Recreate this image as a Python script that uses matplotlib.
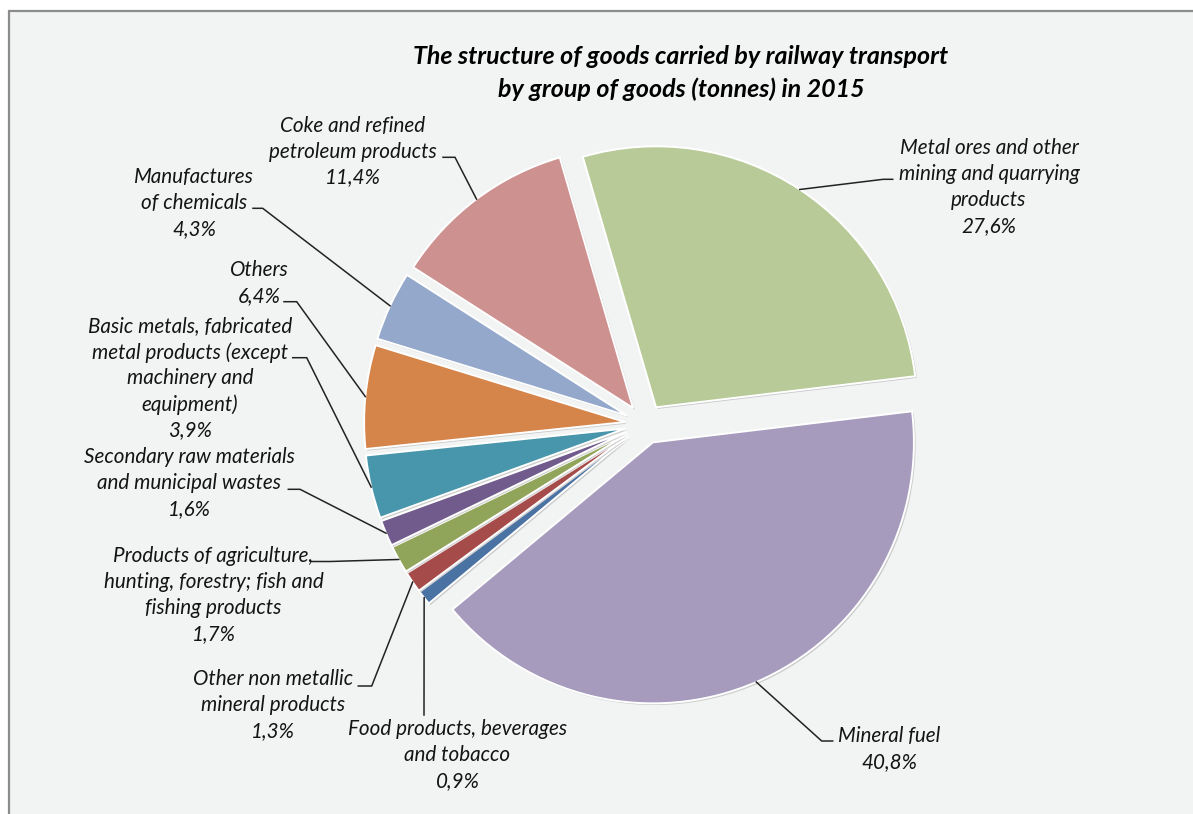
import matplotlib
matplotlib.use("Agg")
import matplotlib.pyplot as plt
from matplotlib.patches import Rectangle
import matplotlib.patheffects as pe
import numpy as np

# ---------------- data ----------------
categories = [
    "Metal ores and other mining and quarrying products",
    "Mineral fuel",
    "Food products, beverages and tobacco",
    "Other non metallic mineral products",
    "Products of agriculture, hunting, forestry; fish and fishing products",
    "Secondary raw materials and municipal wastes",
    "Basic metals, fabricated metal products (except machinery and equipment)",
    "Others",
    "Manufactures of chemicals",
    "Coke and refined petroleum products",
]
shares = [27.6, 40.8, 0.9, 1.3, 1.7, 1.6, 3.9, 6.4, 4.3, 11.4]
label_lines = [
    ["Metal ores and other", "mining and quarrying", "products"],
    ["Mineral fuel"],
    ["Food products, beverages", "and tobacco"],
    ["Other non metallic", "mineral products"],
    ["Products of agriculture,", "hunting, forestry; fish and", "fishing products"],
    ["Secondary raw materials", "and municipal wastes"],
    ["Basic metals, fabricated", "metal products (except", "machinery and", "equipment)"],
    ["Others"],
    ["Manufactures", "of chemicals"],
    ["Coke and refined", "petroleum products"],
]
title_lines = ["The structure of goods carried by railway transport",
               "by group of goods (tonnes) in 2015"]

colors = ["#B8CA97", "#A69BBC", "#4A72A2", "#A54C4A", "#91A55A",
          "#705B8C", "#4896AB", "#D5844A", "#93A8CA", "#CD9190"]

# ---------------- layout (pixel coords, y downward) ----------------
W, H = 1193, 814
pie_center = (645, 424)
pie_radius = 261
explode_px = 20
start_angle = -106.3   # data angle (y axis inverted)

# label block centre (x, y), leader elbow and leader end next to text
label_pos = [
    (989, 187), (889, 748.7), (457.5, 755), (273.3, 705.3), (213.5, 595.4),
    (189, 483), (190, 378.5), (259, 282.8), (194, 202.7), (353, 151.5),
]
leader_elbow = [
    (883.3, 179.3), (821.7, 741), (424, 712), (371.7, 686), (330, 561.5),
    (300, 489.3), (306.7, 357.7), (296.7, 301.7), (262.7, 208.3), (455, 157.3),
]
leader_end = [
    (892.7, 179.3), (832.7, 741), (424, 715), (358.3, 686), (311.7, 561.5),
    (288.3, 489.3), (292.7, 357.7), (284, 301.7), (253, 208.3), (443, 157.3),
]
line_step = 26

bg = "#F2F4F3"
text_color = "#141414"
label_font = "Lato"

fig = plt.figure(figsize=(W / 100, H / 100), dpi=100, facecolor="white")
ax = fig.add_axes([0, 0, 1, 1])
ax.set_axis_off()

# chart area background with border (left/top visible)
ax.add_patch(Rectangle((9, 11), W + 20, H + 20, facecolor=bg,
                       edgecolor="#8C8C8C", linewidth=1.6, zorder=0))

wedges, _ = ax.pie(
    shares,
    colors=colors,
    startangle=start_angle,
    counterclock=True,
    center=pie_center,
    radius=pie_radius,
    explode=[explode_px] * len(shares),
    wedgeprops=dict(edgecolor="white", linewidth=1.4),
    frame=True,
)
for w in wedges:
    w.set_zorder(2)
    w.set_path_effects([
        pe.SimplePatchShadow(offset=(1.2, -1.2), shadow_rgbFace="#7F7F7F", alpha=0.35),
        pe.Normal(),
    ])

ax.set_xlim(0, W)
ax.set_ylim(H, 0)
ax.set_aspect("equal")
ax.set_axis_off()

# labels + leader lines
for i, w in enumerate(wedges):
    lines = label_lines[i] + [f"{shares[i]:.1f}%".replace(".", ",")]
    cx, cy = label_pos[i]
    n = len(lines)
    for k, txt in enumerate(lines):
        ax.text(cx, cy + (k - (n - 1) / 2) * line_step, txt,
                ha="center", va="center", fontsize=14.9, style="italic",
                family=[label_font, "DejaVu Sans"], color=text_color, zorder=5)
    thm = np.deg2rad((w.theta1 + w.theta2) / 2)
    ax_x = w.center[0] + w.r * np.cos(thm)
    ax_y = w.center[1] + w.r * np.sin(thm)
    ex, ey = leader_elbow[i]
    tx, ty = leader_end[i]
    ax.plot([ax_x, ex, tx], [ax_y, ey, ty], color="#222222", lw=1.1,
            solid_joinstyle="miter", zorder=4)

# title
for k, t in enumerate(title_lines):
    ax.text(681, 56.7 + k * 33, t, ha="center", va="center", fontsize=18,
            fontweight="bold", style="italic", family=[label_font, "DejaVu Sans"],
            color="#000000", zorder=5)

fig.savefig("out.png", dpi=100, facecolor="white")
